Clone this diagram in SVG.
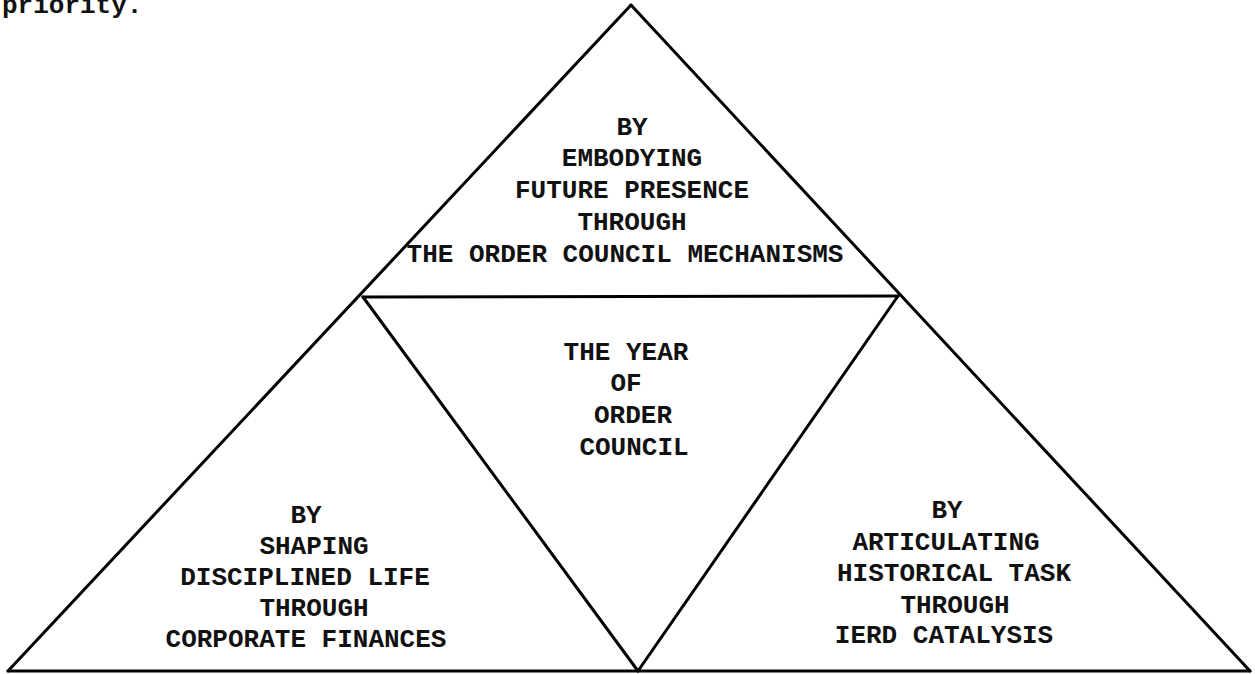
<svg xmlns="http://www.w3.org/2000/svg" width="1255" height="674" viewBox="0 0 1255 674">
  <style>
    .t { font-family: "Liberation Mono", "Courier New", monospace; font-size: 26px; font-weight: bold; fill: #111; text-anchor: middle; }
    .ln { stroke: #000; stroke-width: 3; fill: none; stroke-linecap: round; stroke-linejoin: round; }
  </style>
  <rect width="1255" height="674" fill="#fff"/>
  <text x="2" y="13" class="t" style="text-anchor:start">priority.</text>
  <g id="connectors">
    <line class="ln" x1="631" y1="5" x2="8" y2="671"/>
    <line class="ln" x1="631" y1="5" x2="1250" y2="671"/>
    <line class="ln" x1="8" y1="671" x2="1250" y2="671" stroke-width="2.5"/>
    <line class="ln" x1="363" y1="297" x2="898" y2="296"/>
    <line class="ln" x1="363" y1="297" x2="638" y2="671"/>
    <line class="ln" x1="898" y1="296" x2="638" y2="671"/>
  </g>
  <g id="top">
    <text class="t" x="632" y="135">BY</text>
    <text class="t" x="632" y="166">EMBODYING</text>
    <text class="t" x="632" y="198">FUTURE PRESENCE</text>
    <text class="t" x="632" y="230">THROUGH</text>
    <text class="t" x="625" y="262">THE ORDER COUNCIL MECHANISMS</text>
  </g>
  <g id="center">
    <text class="t" x="626" y="360">THE YEAR</text>
    <text class="t" x="626" y="391">OF</text>
    <text class="t" x="633" y="423">ORDER</text>
    <text class="t" x="634" y="455">COUNCIL</text>
  </g>
  <g id="left">
    <text class="t" x="306" y="523">BY</text>
    <text class="t" x="314" y="554">SHAPING</text>
    <text class="t" x="305" y="585">DISCIPLINED LIFE</text>
    <text class="t" x="314" y="616">THROUGH</text>
    <text class="t" x="306" y="647">CORPORATE FINANCES</text>
  </g>
  <g id="right">
    <text class="t" x="947" y="518">BY</text>
    <text class="t" x="946" y="550">ARTICULATING</text>
    <text class="t" x="954" y="581">HISTORICAL TASK</text>
    <text class="t" x="955" y="613">THROUGH</text>
    <text class="t" x="944" y="643">IERD CATALYSIS</text>
  </g>
</svg>
